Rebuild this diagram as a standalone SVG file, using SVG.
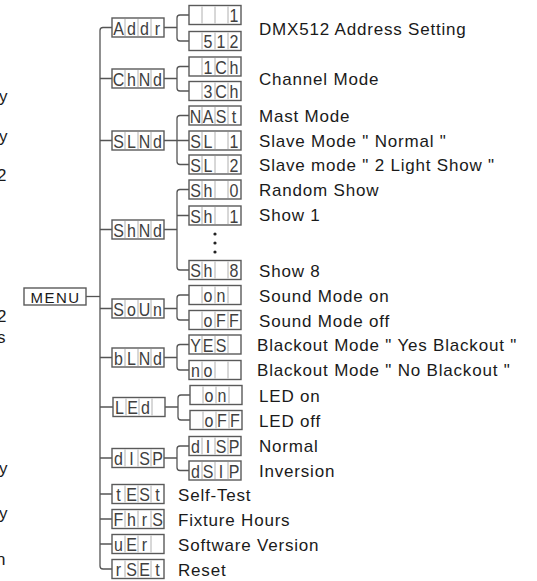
<svg xmlns="http://www.w3.org/2000/svg" xmlns:xlink="http://www.w3.org/1999/xlink" width="537" height="581" viewBox="0 0 537 581">
<style>
.bg{fill:#fff}
.box{fill:#fff;stroke:#5a5a5a;stroke-width:1.4}
.div{stroke:#b0b0b0;stroke-width:1}
.con{fill:none;stroke:#555;stroke-width:1.3}
.seg{font-family:"Liberation Sans",Arial,sans-serif;font-size:16px;fill:#404040;text-anchor:middle}
.lbl{font-family:"Liberation Sans",Arial,sans-serif;font-size:17px;letter-spacing:0.8px;fill:#1a1a1a}
.frag{font-family:"Liberation Sans",Arial,sans-serif;font-size:17px;fill:#1a1a1a;text-anchor:end}
.menu{font-family:"Liberation Sans",Arial,sans-serif;font-size:15px;letter-spacing:1.5px;fill:#1a1a1a;text-anchor:middle}
</style>
<defs>
<g id="box4">
<rect class="box" x="0" y="0" width="52" height="19"/>
<line class="div" x1="13" y1="1" x2="13" y2="18"/>
<line class="div" x1="26" y1="1" x2="26" y2="18"/>
<line class="div" x1="39" y1="1" x2="39" y2="18"/>
</g>
<circle id="dot" r="1.6" fill="#222"/>
</defs>
<rect class="bg" x="0" y="0" width="537" height="581"/>

<g id="fragments">
<text class="frag" x="7.5" y="102">y</text>
<text class="frag" x="7.5" y="142">y</text>
<text class="frag" x="6.5" y="181">2</text>
<text class="frag" x="6.5" y="322">2</text>
<text class="frag" x="5.5" y="343">s</text>
<text class="frag" x="7.5" y="474">y</text>
<text class="frag" x="7.5" y="519">y</text>
<text class="frag" x="5.5" y="565">n</text>
</g>

<g id="connectors">
<path class="con" d="M86,296.5 H100"/>
<path class="con" d="M112,27.5 H103 Q100,27.5 100,30.5 V566 Q100,569 103,569 H112"/>
<path class="con" d="M100,78.5 H112 M100,140.5 H112 M100,229.5 H112 M100,308.5 H112 M100,357.5 H112 M100,407 H113 M100,458 H112 M100,494 H112 M100,519 H112 M100,544 H112"/>
<path class="con" d="M164,27.5 H177 M189,15 H180 Q177,15 177,18 V38 Q177,41 180,41 H189"/>
<path class="con" d="M164,78.5 H177 M189,66.5 H180 Q177,66.5 177,69.5 V88 Q177,91 180,91 H189"/>
<path class="con" d="M164,140.5 H189 M189,115.5 H180 Q177,115.5 177,118.5 V161.5 Q177,164.5 180,164.5 H189"/>
<path class="con" d="M164,229.5 H177 M189,189.5 H180 Q177,189.5 177,192.5 V267 Q177,270 180,270 H189 M177,215.5 H189"/>
<path class="con" d="M164,308.5 H177 M189,295 H180 Q177,295 177,298 V317 Q177,320 180,320 H189"/>
<path class="con" d="M164,357.5 H177 M189,344.5 H180 Q177,344.5 177,347.5 V367 Q177,370 180,370 H189"/>
<path class="con" d="M165,407 H178 M190,395 H181 Q178,395 178,398 V417 Q178,420 181,420 H190"/>
<path class="con" d="M164,458 H177 M189,446 H180 Q177,446 177,449 V467.5 Q177,470.5 180,470.5 H189"/>
</g>

<g id="menu">
<rect class="box" x="24" y="288" width="62" height="17"/>
<text class="menu" x="55.5" y="302.5">MENU</text>
</g>

<g id="addr">
<use xlink:href="#box4" x="112" y="18"/>
<text class="seg" x="118.5 131.5 144.5 157.5" y="0" transform="translate(0,34.5) scale(1,1.2)">Addr</text>
</g>
<g id="addr-1">
<use xlink:href="#box4" x="189" y="5.5"/>
<text class="seg" x="234" y="0" transform="translate(0,22) scale(1,1.2)">1</text>
</g>
<g id="addr-512">
<use xlink:href="#box4" x="189" y="31.5"/>
<text class="seg" x="208 221 234" y="0" transform="translate(0,48) scale(1,1.2)">512</text>
</g>
<text class="lbl" x="259" y="34.5">DMX512 Address Setting</text>

<g id="chnd">
<use xlink:href="#box4" x="112" y="69"/>
<text class="seg" x="118.5 131.5 144.5 157.5" y="0" transform="translate(0,85.5) scale(1,1.2)">ChNd</text>
</g>
<g id="chnd-1ch">
<use xlink:href="#box4" x="189" y="57"/>
<text class="seg" x="208 221 234" y="0" transform="translate(0,73.5) scale(1,1.2)">1Ch</text>
</g>
<g id="chnd-3ch">
<use xlink:href="#box4" x="189" y="81.5"/>
<text class="seg" x="208 221 234" y="0" transform="translate(0,98) scale(1,1.2)">3Ch</text>
</g>
<text class="lbl" x="259" y="85">Channel Mode</text>

<g id="slnd">
<use xlink:href="#box4" x="112" y="131"/>
<text class="seg" x="118.5 131.5 144.5 157.5" y="0" transform="translate(0,147.5) scale(1,1.2)">SLNd</text>
</g>
<g id="slnd-mast">
<use xlink:href="#box4" x="189" y="106"/>
<text class="seg" x="195.5 208 221 234" y="0" transform="translate(0,122.5) scale(1,1.2)">NASt</text>
</g>
<g id="slnd-sl1">
<use xlink:href="#box4" x="189" y="131"/>
<text class="seg" x="195.5 208 221 234" y="0" transform="translate(0,147.5) scale(1,1.2)">SL 1</text>
</g>
<g id="slnd-sl2">
<use xlink:href="#box4" x="189" y="155"/>
<text class="seg" x="195.5 208 221 234" y="0" transform="translate(0,171.5) scale(1,1.2)">SL 2</text>
</g>
<text class="lbl" x="259" y="122">Mast Mode</text>
<text class="lbl" x="259" y="146.5">Slave Mode " Normal "</text>
<text class="lbl" x="259" y="170.5">Slave mode " 2 Light Show "</text>

<g id="shnd">
<use xlink:href="#box4" x="112" y="220"/>
<text class="seg" x="118.5 131.5 144.5 157.5" y="0" transform="translate(0,236.5) scale(1,1.2)">ShNd</text>
</g>
<g id="shnd-sh0">
<use xlink:href="#box4" x="189" y="180"/>
<text class="seg" x="195.5 208 221 234" y="0" transform="translate(0,196.5) scale(1,1.2)">Sh 0</text>
</g>
<g id="shnd-sh1">
<use xlink:href="#box4" x="189" y="206"/>
<text class="seg" x="195.5 208 221 234" y="0" transform="translate(0,222.5) scale(1,1.2)">Sh 1</text>
</g>
<g id="shnd-dots">
<use xlink:href="#dot" x="215" y="234"/>
<use xlink:href="#dot" x="215" y="243"/>
<use xlink:href="#dot" x="215" y="252"/>
</g>
<g id="shnd-sh8">
<use xlink:href="#box4" x="189" y="260.5"/>
<text class="seg" x="195.5 208 221 234" y="0" transform="translate(0,277) scale(1,1.2)">Sh 8</text>
</g>
<text class="lbl" x="259" y="196">Random Show</text>
<text class="lbl" x="259" y="221">Show 1</text>
<text class="lbl" x="259" y="277">Show 8</text>

<g id="soun">
<use xlink:href="#box4" x="112" y="299"/>
<text class="seg" x="118.5 131.5 144.5 157.5" y="0" transform="translate(0,315.5) scale(1,1.2)">SoUn</text>
</g>
<g id="soun-on">
<use xlink:href="#box4" x="189" y="285.5"/>
<text class="seg" x="208 221" y="0" transform="translate(0,302) scale(1,1.2)">on</text>
</g>
<g id="soun-off">
<use xlink:href="#box4" x="189" y="310.5"/>
<text class="seg" x="208 221 234" y="0" transform="translate(0,327) scale(1,1.2)">oFF</text>
</g>
<text class="lbl" x="259" y="302">Sound Mode on</text>
<text class="lbl" x="259" y="327">Sound Mode off</text>

<g id="blnd">
<use xlink:href="#box4" x="112" y="348"/>
<text class="seg" x="118.5 131.5 144.5 157.5" y="0" transform="translate(0,364.5) scale(1,1.2)">bLNd</text>
</g>
<g id="blnd-yes">
<use xlink:href="#box4" x="189" y="335"/>
<text class="seg" x="195.5 208 221" y="0" transform="translate(0,351.5) scale(1,1.2)">YES</text>
</g>
<g id="blnd-no">
<use xlink:href="#box4" x="189" y="360.5"/>
<text class="seg" x="195.5 208" y="0" transform="translate(0,377) scale(1,1.2)">no</text>
</g>
<text class="lbl" x="257" y="351">Blackout Mode " Yes Blackout "</text>
<text class="lbl" x="257" y="376">Blackout Mode " No Blackout "</text>

<g id="led">
<use xlink:href="#box4" x="113" y="397.5"/>
<text class="seg" x="119.5 132.5 145.5" y="0" transform="translate(0,414) scale(1,1.2)">LEd</text>
</g>
<g id="led-on">
<use xlink:href="#box4" x="190" y="385.5"/>
<text class="seg" x="209 222" y="0" transform="translate(0,402) scale(1,1.2)">on</text>
</g>
<g id="led-off">
<use xlink:href="#box4" x="190" y="410.5"/>
<text class="seg" x="209 222 235" y="0" transform="translate(0,427) scale(1,1.2)">oFF</text>
</g>
<text class="lbl" x="259" y="402">LED on</text>
<text class="lbl" x="259" y="427">LED off</text>

<g id="disp">
<use xlink:href="#box4" x="112" y="448.5"/>
<text class="seg" x="118.5 131.5 144.5 157.5" y="0" transform="translate(0,465) scale(1,1.2)">dISP</text>
</g>
<g id="disp-normal">
<use xlink:href="#box4" x="189" y="436.5"/>
<text class="seg" x="195.5 208 221 234" y="0" transform="translate(0,453) scale(1,1.2)">dISP</text>
</g>
<g id="disp-inv">
<use xlink:href="#box4" x="189" y="461"/>
<text class="seg" x="195.5 208 221 234" y="0" transform="translate(0,477.5) scale(1,1.2)">dSIP</text>
</g>
<text class="lbl" x="259" y="452">Normal</text>
<text class="lbl" x="259" y="477">Inversion</text>

<g id="test">
<use xlink:href="#box4" x="112" y="484.5"/>
<text class="seg" x="118.5 131.5 144.5 157.5" y="0" transform="translate(0,501) scale(1,1.2)">tESt</text>
<text class="lbl" x="178" y="501">Self-Test</text>
</g>
<g id="fhrs">
<use xlink:href="#box4" x="112" y="509.5"/>
<text class="seg" x="118.5 131.5 144.5 157.5" y="0" transform="translate(0,526) scale(1,1.2)">FhrS</text>
<text class="lbl" x="178" y="526">Fixture Hours</text>
</g>
<g id="ver">
<use xlink:href="#box4" x="112" y="534.5"/>
<text class="seg" x="118.5 131.5 144.5" y="0" transform="translate(0,551) scale(1,1.2)">uEr</text>
<text class="lbl" x="178" y="551">Software Version</text>
</g>
<g id="rset">
<use xlink:href="#box4" x="112" y="559.5"/>
<text class="seg" x="118.5 131.5 144.5 157.5" y="0" transform="translate(0,576) scale(1,1.2)">rSEt</text>
<text class="lbl" x="178" y="576">Reset</text>
</g>
</svg>
